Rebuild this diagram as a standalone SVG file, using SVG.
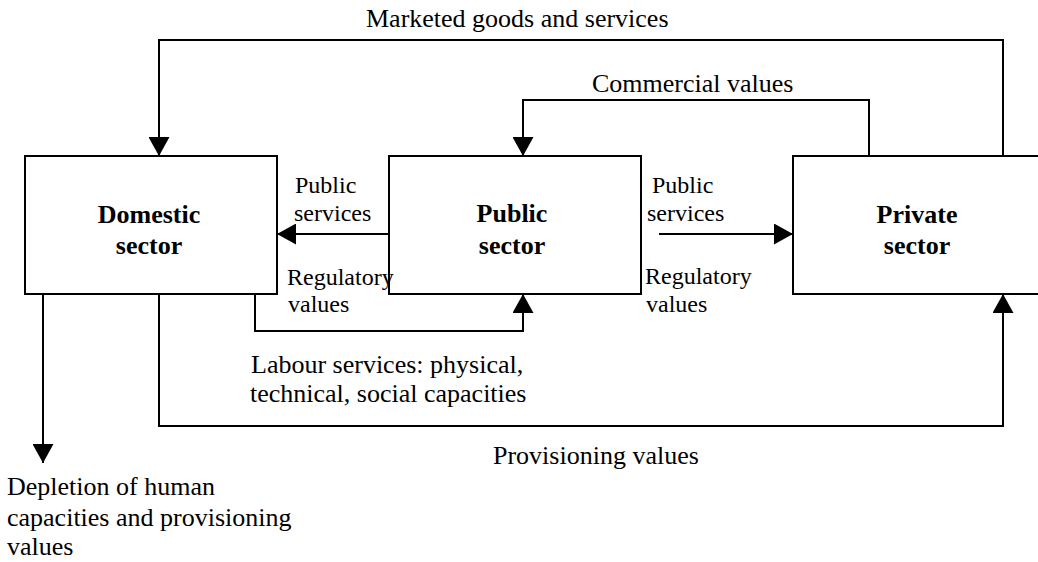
<svg xmlns="http://www.w3.org/2000/svg" width="1038" height="562" viewBox="0 0 1038 562">
<style>
.box{fill:#fff;stroke:#000;stroke-width:2}
.ln{fill:none;stroke:#000;stroke-width:2;marker-end:url(#ah)}
.t{font-size:26px}
.s{font-size:24px}
.b{font-size:26px;font-weight:bold;text-anchor:middle}
</style>
<defs>
<marker id="ah" viewBox="0 0 19 21" refX="19" refY="10.5" markerWidth="19" markerHeight="21" orient="auto" markerUnits="userSpaceOnUse">
<path d="M0,0 L19,10.5 L0,21 Z" fill="#000"/>
</marker>
</defs>
<rect width="1038" height="562" fill="#fff"/>
<g id="connectors">
<path class="ln" d="M1003,156 V40 H159 V156"/>
<path class="ln" d="M869,156 V100 H523 V156"/>
<path class="ln" d="M389,234 H277"/>
<path class="ln" d="M659,234 H793"/>
<path class="ln" d="M255,294 V331 H523 V294"/>
<path class="ln" d="M159,294 V426 H1003 V294"/>
<path class="ln" d="M43,294 V463"/>
</g>
<g font-family="'Liberation Serif', 'Times New Roman', Tinos, 'DejaVu Serif', serif" fill="#000">
<g id="domestic">
<rect class="box" x="25" y="156" width="252" height="138"/>
<text class="b" x="149" y="223">Domestic</text>
<text class="b" x="149" y="254">sector</text>
</g>
<g id="public">
<rect class="box" x="389" y="156" width="252" height="138"/>
<text class="b" x="512" y="222">Public</text>
<text class="b" x="512" y="254">sector</text>
</g>
<g id="private">
<rect class="box" x="793" y="156" width="260" height="138"/>
<text class="b" x="917" y="223">Private</text>
<text class="b" x="917" y="254">sector</text>
</g>
<g id="labels">
<text class="t" x="366" y="27">Marketed goods and services</text>
<text class="t" x="592" y="92">Commercial values</text>
<text class="s" x="295" y="193">Public</text>
<text class="s" x="294" y="221">services</text>
<text class="s" x="287" y="285">Regulatory</text>
<text class="s" x="288" y="312">values</text>
<text class="s" x="652" y="193">Public</text>
<text class="s" x="647" y="221">services</text>
<text class="s" x="645" y="284">Regulatory</text>
<text class="s" x="646" y="312">values</text>
<text class="t" x="251" y="373">Labour services: physical,</text>
<text class="t" x="250" y="402">technical, social capacities</text>
<text class="t" x="493" y="464">Provisioning values</text>
<text class="t" x="7" y="495">Depletion of human</text>
<text class="t" x="7" y="526">capacities and provisioning</text>
<text class="t" x="7" y="555">values</text>
</g>
</g>
</svg>
